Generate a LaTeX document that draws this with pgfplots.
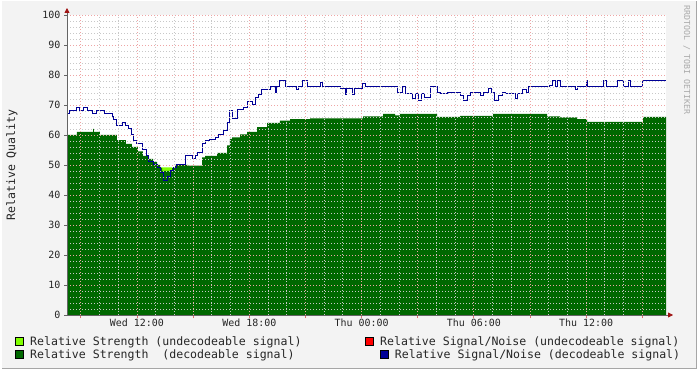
\documentclass[border=0pt]{standalone}
\usepackage{fontspec}
\setmainfont{DejaVu Sans Mono}
\usepackage{pgfplots}
\pgfplotsset{compat=1.18}
\usetikzlibrary{arrows.meta}
\definecolor{bgc}{RGB}{243,243,243}
\definecolor{dgreen}{RGB}{0,104,0}
\definecolor{lgreen}{RGB}{128,255,0}
\definecolor{navy}{RGB}{0,0,150}
\definecolor{mgrid}{RGB}{238,165,165}
\definecolor{ngrid}{RGB}{200,200,200}
\definecolor{axc}{RGB}{100,100,100}
\definecolor{arrc}{RGB}{160,20,20}
\definecolor{wmark}{RGB}{170,170,170}

\begin{document}
\begin{tikzpicture}[x=1bp,y=1bp]
\useasboundingbox (0,0) rectangle (697,369);
\fill[bgc] (0,0) rectangle (697,369);
\draw[gray!70, line width=1.5bp] (0,0.75) -- (696.25,0.75) -- (696.25,369);
\draw[white, line width=1.5bp] (0.75,0) -- (0.75,368.25) -- (697,368.25);
\begin{axis}[
  at={(67bp,54bp)}, anchor=south west,
  scale only axis, width=599bp, height=300bp,
  xmin=8.26, xmax=40.27, ymin=0, ymax=100,
  axis background/.style={fill=white},
  axis on top,
  axis lines*=left,
  axis line style={axc, line width=0.8bp, shorten >=-7bp, -{Triangle[length=5bp,width=5bp,color=arrc]}},
  xtick={9,12,...,39},
  xticklabels={,Wed 12:00,,Wed 18:00,,Thu 00:00,,Thu 06:00,,Thu 12:00,},
  minor x tick num=2,
  ytick={0,10,...,100},
  minor y tick num=4,
  grid=both,
  major grid style={mgrid, line width=0.8bp, dash pattern=on 1bp off 2bp},
  minor grid style={ngrid, line width=0.8bp, dash pattern=on 1bp off 2bp},
  tick align=outside,
  major tick length=3bp, minor tick length=0bp,
  xtick style={draw={rgb,255:red,220;green,110;blue,110}, line width=0.8bp},
  ytick style={draw=axc, line width=0.8bp},
  ticklabel style={font=\fontsize{10}{12}\selectfont, text=black!85},
  xticklabel style={anchor=base, yshift=-8bp},
  yticklabel style={anchor=east},
  /pgf/number format/assume math mode=true,
]
% undecodeable strength (light green)
\addplot[draw=none, fill=lgreen, const plot] coordinates {(13.12,49.2) (13.88,49.2)} \closedcycle;
% decodeable strength (dark green)
\addplot[draw=none, fill=dgreen, const plot] coordinates {
(8.26,60) (8.79,61) (9.65,62) (9.70,61) (10.02,60) (10.93,58.3) (11.41,57)
(11.73,56) (12.05,54.5) (12.32,53) (12.59,52) (12.86,51) (13.07,50) (13.23,49)
(13.34,48) (13.88,49) (14.04,50) (14.73,49.8) (15.48,52.5) (15.64,53) (16.28,54)
(16.81,56.5) (16.97,58.7) (17.08,59.2) (17.51,60.2) (17.88,61) (18.42,62.6)
(18.95,64) (19.64,64.8) (20.18,65.3) (21.25,65.5) (24.08,66.2) (25.15,67)
(25.79,66.5) (26.06,67) (28.04,66) (29.27,66.4) (31.03,67) (33.92,66.2)
(34.61,65.9) (35.52,65.3) (36.05,64.4) (39.04,66) (40.27,66)
} \closedcycle;
% decodeable signal/noise (blue)
\addplot[navy, line width=1bp, const plot] coordinates {
(8.26,67) (8.37,68) (8.79,69) (8.95,68) (9.12,69) (9.38,68) (9.60,67) (9.81,68)
(10.29,67) (10.67,66) (10.77,65) (10.93,63) (11.20,64) (11.36,63) (11.52,62)
(11.68,60) (11.79,58) (12.00,57) (12.27,55) (12.53,53) (12.64,51) (12.86,50)
(13.07,49) (13.23,47.5) (13.39,45) (13.61,46) (13.77,48) (13.93,49) (14.09,50)
(14.57,53) (14.94,52) (15.10,53) (15.26,54) (15.48,57) (15.64,58) (15.90,58.5)
(16.17,59) (16.33,60) (16.60,61.5) (16.81,64) (16.97,68) (17.08,65.5)
(17.35,68.5) (17.67,69) (17.93,71) (18.15,70) (18.31,72.5) (18.47,73.5)
(18.68,75.3) (18.84,75) (19.11,76) (19.38,74) (19.48,76) (19.64,78) (19.91,76)
(20.50,75) (20.61,76) (20.87,78) (21.09,76) (21.78,77.5) (21.89,76) (22.85,75.5)
(23.12,73.5) (23.22,75.5) (23.49,73.5) (23.60,75.5) (24.03,77) (24.19,76)
(25.90,74) (26.17,76) (26.33,73.7) (26.70,72.2) (26.86,73.7) (27.02,71.4)
(27.23,73.7) (27.39,72.5) (27.66,76) (28.04,74.2) (28.20,73.7) (28.57,74)
(29.27,73) (29.43,71.4) (29.64,73) (29.80,74.2) (30.33,73) (30.49,74)
(30.76,75.5) (30.97,74) (31.13,71.4) (31.30,73) (31.51,74) (31.67,73.7)
(32.20,72.2) (32.36,73.7) (32.58,75.3) (32.84,74) (32.90,76) (34.07,76.5)
(34.23,78) (34.34,76) (34.45,78) (34.61,76) (35.41,75) (35.52,76) (36.00,78)
(36.05,76) (36.91,78) (37.07,76) (37.66,78) (37.98,76) (38.24,78) (38.35,76)
(38.99,78) (39.31,78.3) (40.06,78) (40.27,78)
};
\end{axis}
\node[rotate=90, font=\fontsize{11.6}{14}\selectfont, text=black!85] at (12,204) {Relative Quality};
\node[rotate=-90, anchor=base west, inner sep=0pt, font=\fontsize{8.3}{10}\selectfont, text=wmark] at (684,364) {RRDTOOL / TOBI OETIKER};
% legend
\begin{scope}[font=\fontsize{11.6}{14}\selectfont]
\filldraw[fill=lgreen, draw=black, line width=0.6bp] (15.5,23.3) rectangle (23.5,31.7);
\node[anchor=base west, inner sep=0pt, text=black!85] at (30,23.3) {Relative Strength (undecodeable signal)};
\filldraw[fill=red, draw=black, line width=0.6bp] (365,23.3) rectangle (373,31.7);
\node[anchor=base west, inner sep=0pt, text=black!85] at (380,23.3) {Relative Signal/Noise (undecodeable signal)};
\filldraw[fill=dgreen, draw=black, line width=0.6bp] (15.5,10.7) rectangle (23.5,19);
\node[anchor=base west, inner sep=0pt, text=black!85] at (30,10.7) {Relative Strength\ \ (decodeable signal)};
\filldraw[fill=navy, draw=black, line width=0.6bp] (380,10.7) rectangle (388,19);
\node[anchor=base west, inner sep=0pt, text=black!85] at (394.7,10.7) {Relative Signal/Noise (decodeable signal)};
\end{scope}
\end{tikzpicture}
\end{document}
